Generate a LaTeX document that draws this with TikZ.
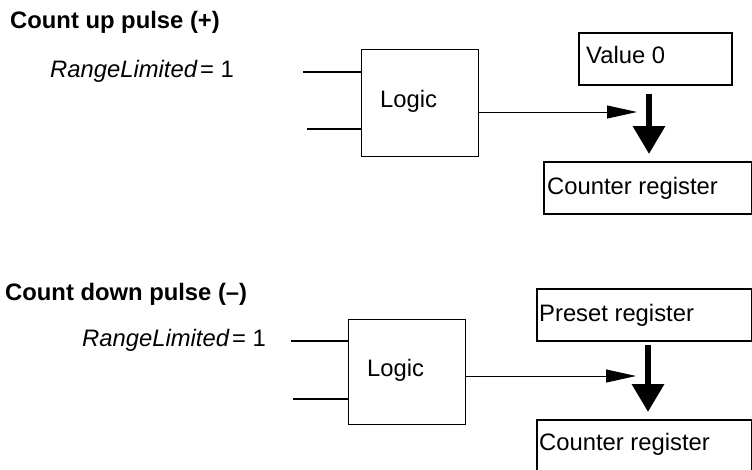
\documentclass[tikz,border=0pt]{standalone}
\usepackage{fontspec}
\setmainfont{Liberation Sans}
\usetikzlibrary{arrows.meta}
\begin{document}
\begin{tikzpicture}[x=1pt,y=-1pt,
  txt/.style={anchor=base west,inner sep=0pt,font=\fontsize{23.8}{28}\selectfont},
  hdr/.style={txt,font=\fontsize{23.8}{28}\selectfont\bfseries},
  logicbox/.style={draw,line width=1pt},
  regbox/.style={draw,line width=1.6pt},
  inwire/.style={line width=1.8pt},
  outwire/.style={line width=0.9pt,-{Triangle[length=30pt,width=13pt]}},
  bigarrow/.style={line width=6.5pt,-{Triangle[length=28pt,width=31pt]}}]
\useasboundingbox (0,0) rectangle (752,469);

% ---------- Count up ----------
\node[hdr] (hup) at (10,28) {Count up pulse (+)};
\node[txt] (rlup) at (50,77) {\textit{RangeLimited}\hspace{0.1em}= 1};
\node[logicbox,minimum width=117pt,minimum height=107pt,inner sep=0pt,anchor=north west] (lgup) at (361,49) {};
\node[txt] (lgupt) at (380,107) {Logic};
\coordinate (inup1) at (303,72);
\coordinate (inup2) at (307,129);
\draw[inwire] (inup1) -- (inup1 -| lgup.west);
\draw[inwire] (inup2) -- (inup2 -| lgup.west);
\coordinate (outup) at (637,112);
\draw[outwire] (outup -| lgup.east) -- (outup);
\node[regbox,minimum width=153pt,minimum height=52pt,inner sep=0pt,anchor=north west] (v0) at (578,32) {};
\node[txt] (v0t) at (586,63) {Value 0};
\node[regbox,minimum width=208pt,minimum height=52pt,inner sep=0pt,anchor=north west] (cup) at (543,161) {};
\node[txt] (cupt) at (547,194) {Counter register};
\coordinate (bau1) at (649,94);
\coordinate (bau2) at (649,154);
\draw[bigarrow] (bau1) -- (bau2);

% ---------- Count down ----------
\node[hdr] (hdn) at (5,300) {Count down pulse (–)};
\node[txt] (rldn) at (82,346) {\textit{RangeLimited}\hspace{0.1em}= 1};
\node[logicbox,minimum width=117pt,minimum height=105pt,inner sep=0pt,anchor=north west] (lgdn) at (348,319) {};
\node[txt] (lgdnt) at (367,376) {Logic};
\coordinate (indn1) at (291,341);
\coordinate (indn2) at (293,399);
\draw[inwire] (indn1) -- (indn1 -| lgdn.west);
\draw[inwire] (indn2) -- (indn2 -| lgdn.west);
\coordinate (outdn) at (636,376);
\draw[outwire] (outdn -| lgdn.east) -- (outdn);
\node[regbox,minimum width=215pt,minimum height=52pt,inner sep=0pt,anchor=north west] (pre) at (536,288) {};
\node[txt] (pret) at (539,321) {Preset register};
\node[regbox,minimum width=215pt,minimum height=52pt,inner sep=0pt,anchor=north west] (cdn) at (536,419) {};
\node[txt] (cdnt) at (539,450) {Counter register};
\coordinate (bad1) at (648,345);
\coordinate (bad2) at (648,412);
\draw[bigarrow] (bad1) -- (bad2);
\end{tikzpicture}
\end{document}
